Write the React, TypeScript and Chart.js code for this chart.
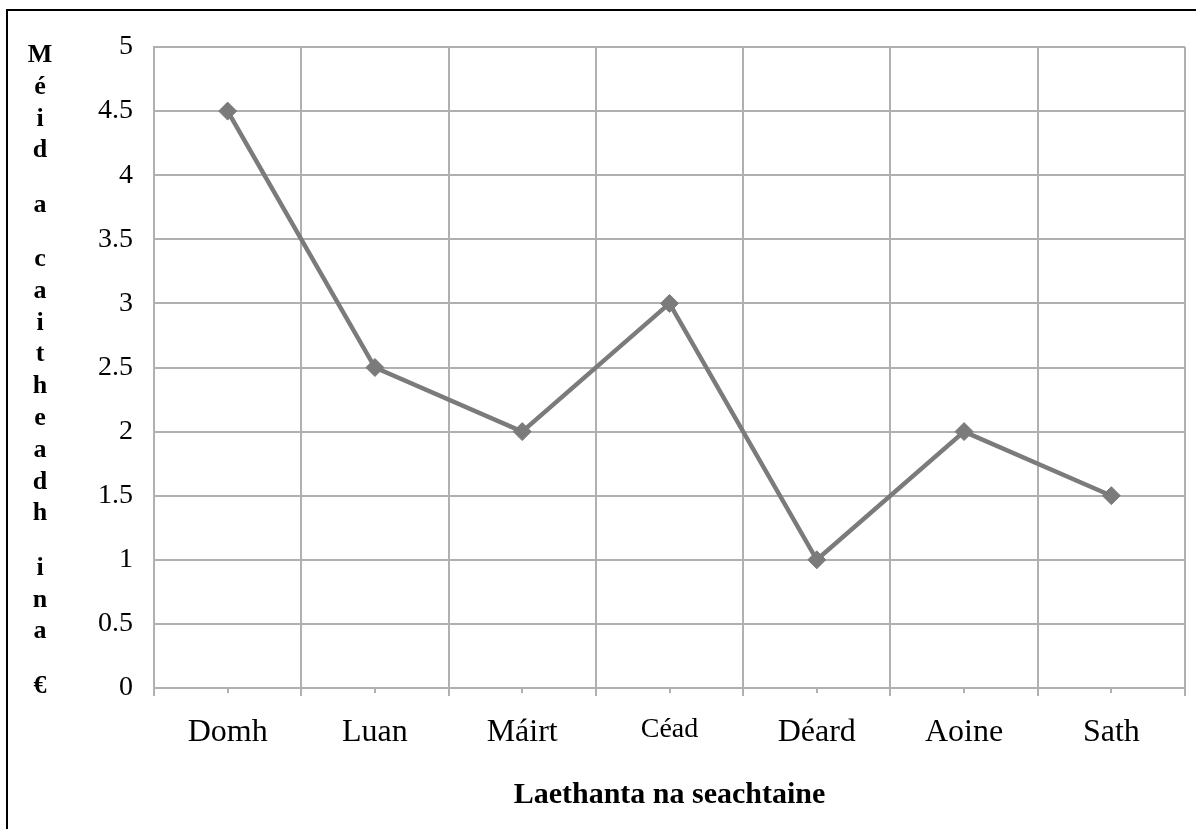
import React, { useEffect, useRef } from "react";
import { Chart, registerables } from "chart.js";

Chart.register(...registerables);

const categories = ["Domh", "Luan", "Máirt", "Céad", "Déard", "Aoine", "Sath"];
const spending = [4.5, 2.5, 2, 3, 1, 2, 1.5];
const yTitle = "Méid a caitheadh ina €";
const xTitle = "Laethanta na seachtaine";

const SERIF = "'Liberation Serif', 'Times New Roman', serif";
const GRID = "#b0b0b0";
const LINE = "#7b7b7b";

const decorPlugin = {
  id: "decor",
  afterDraw(chart: any) {
    const ctx = chart.ctx;
    const xs = chart.scales.x;
    const area = chart.chartArea;
    ctx.save();
    // outer frame (top and left edges visible)
    ctx.strokeStyle = "#000";
    ctx.lineWidth = 2;
    ctx.beginPath();
    ctx.moveTo(7, chart.height + 2);
    ctx.lineTo(7, 10);
    ctx.lineTo(chart.width + 2, 10);
    ctx.stroke();
    // short tick marks at category centres
    ctx.strokeStyle = GRID;
    ctx.lineWidth = 2;
    for (let i = 0; i < categories.length; i++) {
      const px = Math.round(xs.getPixelForValue(i));
      ctx.beginPath();
      ctx.moveTo(px, area.bottom);
      ctx.lineTo(px, area.bottom + 5);
      ctx.stroke();
    }
    // stacked vertical y-axis title
    ctx.fillStyle = "#000";
    ctx.font = `bold 26px ${SERIF}`;
    ctx.textAlign = "center";
    ctx.textBaseline = "alphabetic";
    let y = 62;
    const chars = Array.from(yTitle);
    chars.forEach((ch, i) => {
      if (ch === " ") {
        y += 22.5;
        return;
      }
      ctx.fillText(ch, 40, y);
      if (i < chars.length - 1) y += 31.8;
    });
    ctx.restore();
  },
};

export default function App() {
  const ref = useRef<HTMLCanvasElement | null>(null);
  useEffect(() => {
    if (!ref.current) return;
    const chart = new Chart(ref.current, {
      type: "line",
      data: {
        labels: categories,
        datasets: [
          {
            label: "Méid",
            data: spending,
            borderColor: LINE,
            backgroundColor: LINE,
            borderWidth: 4.5,
            pointStyle: "rectRot",
            pointRadius: 9,
            pointBorderWidth: 1,
            pointBackgroundColor: LINE,
            pointBorderColor: LINE,
            tension: 0,
          },
        ],
      },
      options: {
        animation: false,
        responsive: true,
        maintainAspectRatio: false,
        layout: { padding: { left: 0, top: 47, right: 11, bottom: 0 } },
        plugins: {
          legend: { display: false },
          tooltip: { enabled: false },
        },
        scales: {
          x: {
            type: "category",
            offset: true,
            grid: {
              offset: true,
              color: GRID,
              lineWidth: 2,
              tickLength: 8,
              drawTicks: true,
            },
            border: { color: GRID, width: 2 },
            ticks: {
              color: "#000",
              padding: 17,
              maxRotation: 0,
              font: (ctx: any) => ({
                family: SERIF,
                size: categories[ctx.index] === "Céad" ? 28 : 32,
              }),
            },
            title: {
              display: true,
              text: xTitle,
              color: "#000",
              font: { family: SERIF, size: 30, weight: "bold" },
              padding: { top: 0, bottom: 16 },
            },
            afterFit: (scale: any) => {
              scale.height = 141;
            },
          },
          y: {
            min: 0,
            max: 5,
            ticks: {
              stepSize: 0.5,
              color: "#000",
              padding: 21,
              font: { family: SERIF, size: 28 },
              callback: (v: any) => String(Number(v)),
            },
            grid: { color: GRID, lineWidth: 2, drawTicks: false },
            border: { color: GRID, width: 2 },
            afterFit: (scale: any) => {
              scale.width = 154;
            },
          },
        },
      },
      plugins: [decorPlugin],
    });
    return () => chart.destroy();
  }, []);
  return (
    <div
      style={{
        position: "fixed",
        left: 0,
        top: 0,
        width: 1196,
        height: 829,
        background: "#fff",
      }}
    >
      <canvas ref={ref} />
    </div>
  );
}
